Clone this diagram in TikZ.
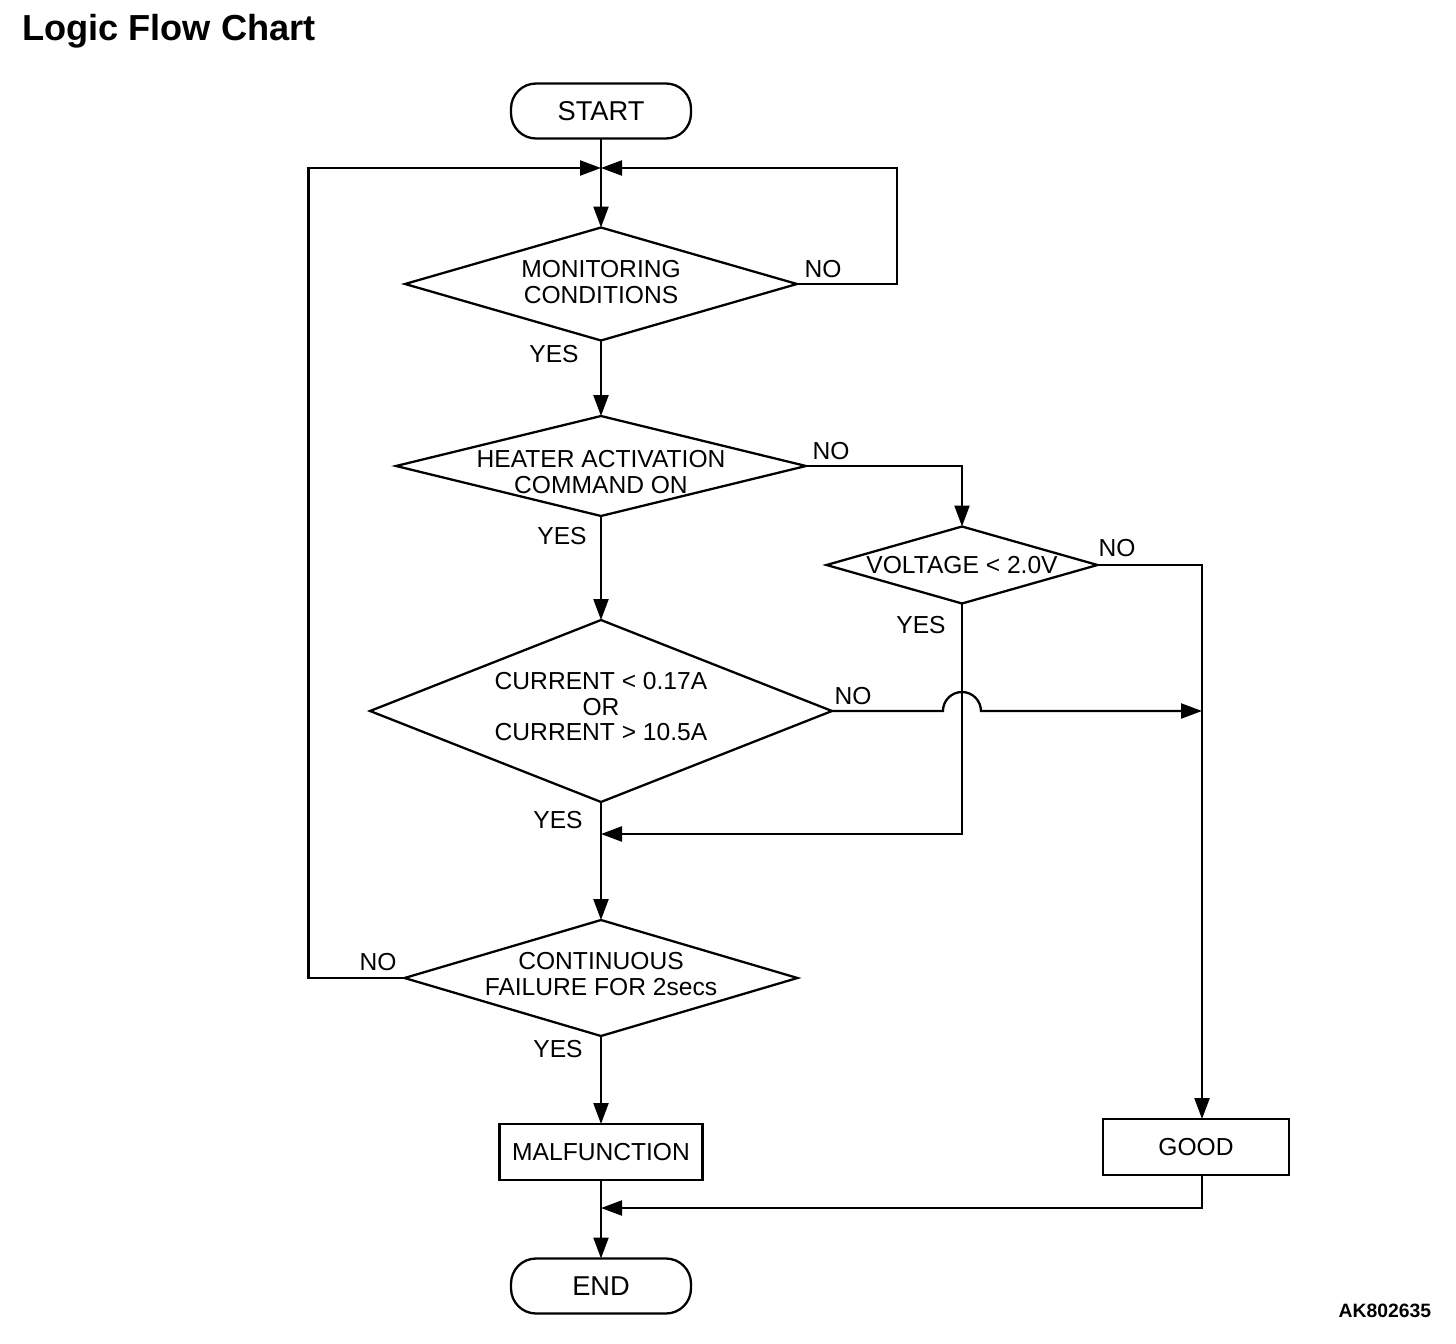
\documentclass[tikz,border=0pt]{standalone}
\usepackage{fontspec}
\setmainfont{Liberation Sans}
\usetikzlibrary{shapes.geometric,arrows.meta}
\begin{document}
\begin{tikzpicture}[x=0.02cm,y=-0.02cm,
  line width=1.3pt,
  every node/.style={font=\fontsize{14}{14.5}\selectfont, inner sep=0pt, outer sep=0pt},
  dia/.style={diamond, draw, line width=1.3pt, line join=miter},
  term/.style={draw, rounded corners=0.5cm, minimum width=3.6cm, minimum height=1.1cm, font=\fontsize{15.5}{16}\selectfont},
  proc/.style={draw, minimum height=1.12cm},
  arr/.style={-{Triangle[length=0.42cm,width=0.3cm]}},
  dlabel/.style={align=center}
]
\useasboundingbox (0,0) rectangle (1456,1344);

% title and id
\node[anchor=base west, font=\bfseries\fontsize{20.6}{24}\selectfont] (title) at (22,41) {Logic Flow Chart};
\node[anchor=base east, font=\bfseries\fontsize{11}{13}\selectfont] (id) at (1431,1317) {AK802635};

% shapes
\node[term] (start) at (601,111) {START};
\node[dia, minimum width=7.84cm, minimum height=2.26cm,
  label={[dlabel, yshift=0.04cm]center:{MONITORING\\CONDITIONS}}] (d1) at (601,284) {};
\node[dia, minimum width=8.2cm, minimum height=2.0cm,
  label={[dlabel, yshift=-0.12cm]center:{HEATER ACTIVATION\\COMMAND ON}}] (d2) at (601,466) {};
\node[dia, minimum width=5.42cm, minimum height=1.54cm,
  label={[dlabel]center:{VOLTAGE < 2.0V}}] (d3) at (962,565) {};
\node[dia, minimum width=9.24cm, minimum height=3.64cm,
  label={[dlabel, yshift=0.08cm]center:{CURRENT < 0.17A\\OR\\CURRENT > 10.5A}}] (d4) at (601,711) {};
\node[dia, minimum width=7.86cm, minimum height=2.32cm,
  label={[dlabel, yshift=0.08cm]center:{CONTINUOUS\\FAILURE FOR 2secs}}] (d5) at (601,978) {};
\node[proc, minimum width=4.06cm] (malf) at (601,1152) {MALFUNCTION};
\node[proc, minimum width=3.72cm] (good) at (1196,1147) {GOOD};
\node[term] (end) at (601,1286) {END};

% helper coordinates
\coordinate (top) at (601,168);
\coordinate (rx) at (1202,565);
\coordinate (mrg) at (601,834);
\coordinate (bot) at (601,1208);
\coordinate (jn) at (1202,711);

% connectors
\draw[arr] (start.south) -- (d1.north);
\draw[arr] (d1.east) -- ++(100,0) |- (top);
\draw[arr] (d5.west) -- ++(-96,0) |- (top);
\draw[arr] (d1.south) -- (d2.north);
\draw[arr] (d2.east) -| (d3.north);
\draw[arr] (d3.east) -| (good.north -| rx);
\draw[arr] (d3.south) |- (mrg);
\draw[arr] (d2.south) -- (d4.north);
\draw[arr] (d4.east) -- ++(111,0) arc[start angle=180, end angle=0, radius=0.38cm] -- (jn);
\draw[arr] (d4.south) -- (d5.north);
\draw[arr] (d5.south) -- (malf.north);
\draw[arr] (malf.south) -- (end.north);
\draw[arr] (good.south -| rx) |- (bot);

% branch labels
\node (y1) at (554,354) {YES};
\node (n1) at (823,269) {NO};
\node (y2) at (562,536) {YES};
\node (n2) at (831,451) {NO};
\node (y3) at (921,625) {YES};
\node (n3) at (1117,548) {NO};
\node (y4) at (558,820) {YES};
\node (n4) at (853,696) {NO};
\node (y5) at (558,1049) {YES};
\node (n5) at (378,962) {NO};
\end{tikzpicture}
\end{document}
